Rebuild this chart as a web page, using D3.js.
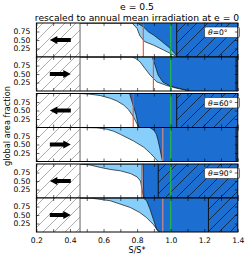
<!DOCTYPE html>
<html><head><meta charset="utf-8">
<script src="https://cdn.jsdelivr.net/npm/d3@7"></script>
<style>body{margin:0;background:#fff}svg{display:block}text{font-family:"DejaVu Sans",sans-serif}</style>
</head><body><svg id="c" width="249" height="258"></svg>
<script>
// ---- data ----
const titleLines = ["e = 0.5", "rescaled to annual mean irradiation at e = 0"];
const xLabel = "S/S*";
const yLabel = "global area fraction";
const xTickLabels = [0.2, 0.4, 0.6, 0.8, 1.0, 1.2, 1.4];
const yTickValues = [0.25, 0.5, 0.75];
const panelTheta = ["0°", null, "60°", null, "90°", null];
const sweepDir = [-1, 1, -1, 1, -1, 1];
const redLineS = [0.837, 0.897, 0.777, 0.953, 0.828, 0.953];
const greenLineS = 1.0;
const hatchStartS = [1.036, 1.39, 1.036, 1.39, 0.926, 1.225];
const noDataEndS = 0.46;
const arrowS = [0.28, 0.405];
// white area top (S, fraction)
const white1 = [[0.46,1],[0.77,1],[0.80,0.84],[0.817,0.62],[0.846,0.45],[0.897,0.35],[0.956,0.21],[0.996,0.11],[1.026,0.04],[1.04,0]];
const white2 = [[0.46,1],[0.77,1],[0.79,0.96],[0.817,0.86],[0.846,0.67],[0.877,0.47],[0.917,0.27],[0.977,0.16],[1.036,0.08],[1.096,0.02],[1.11,0]];
const white3 = [[0.46,1],[0.52,0.98],[0.58,0.94],[0.64,0.86],[0.68,0.78],[0.72,0.66],[0.75,0.52],[0.78,0.3],[0.80,0.1],[0.81,0]];
const white4 = [[0.46,1],[0.56,0.99],[0.62,0.95],[0.66,0.89],[0.70,0.8],[0.74,0.7],[0.78,0.6],[0.84,0.42],[0.88,0.24],[0.91,0.08],[0.925,0]];
const white5 = [[0.46,1],[0.52,0.97],[0.58,0.9],[0.64,0.84],[0.70,0.8],[0.76,0.72],[0.80,0.62],[0.82,0.5],[0.83,0.25],[0.838,0]];
const white6 = [[0.46,1],[0.52,1],[0.64,0.92],[0.76,0.72],[0.817,0.57],[0.857,0.42],[0.897,0.22],[0.926,0.02],[0.93,0]];
// dark-blue lower boundary (S, fraction)
const dark1 = [[0.46,1],[0.80,1],[0.837,0.89],[0.867,0.74],[0.897,0.65],[0.937,0.5],[0.996,0.26],[1.036,0.04],[1.04,0]];
const dark2 = [[0.46,1],[0.89,1],[0.907,0.76],[0.925,0.47],[0.954,0.26],[0.996,0.15],[1.055,0.07],[1.115,0]];
const dark3 = [[0.46,1],[0.755,1],[0.776,0.66],[0.794,0.37],[0.807,0.05],[0.81,0]];
const dark4 = [[0.46,1],[0.875,1],[0.90,0.92],[0.915,0.8],[0.925,0.62],[0.935,0.4],[0.945,0.15],[0.952,0]];
const dark5 = [[0.46,1],[0.835,1],[0.84,0]];
const dark6 = [[0.46,1],[0.837,1],[0.857,0.92],[0.877,0.67],[0.897,0.37],[0.917,0.07],[0.937,0]];

const whiteCurves = [white1, white2, white3, white4, white5, white6];
const darkCurves = [dark1, dark2, dark3, dark4, dark5, dark6];

// ---- style / layout ----
const C = {dark:"#1c6fd0", light:"#87cefa", red:"#ff4a1c", salmon:"#df8f7c", green:"#22b14c"};
const redColors = [C.red, C.red, C.red, C.salmon, C.red, C.salmon];
const panelTop = [23, 57, 93.5, 127.5, 164, 198];
const ph = 34;
const fs = 7.6;

const svg = d3.select("#c");
const defs = svg.append("defs");
function hatch(id, color, w){
  const p = defs.append("pattern").attr("id", id).attr("patternUnits","userSpaceOnUse")
    .attr("width", 11).attr("height", 11);
  p.append("path").attr("d","M0,11L11,0M-2.75,2.75L2.75,-2.75M8.25,13.75L13.75,8.25")
    .attr("stroke", color).attr("stroke-width", w).attr("fill","none");
}
hatch("hg", "#8a8a8a", 0.7);
hatch("hk", "#0a1a30", 0.8);

const x = d3.scaleLinear().domain([0.2, 1.4]).range([36.4, 237.8]);

panelTheta.forEach((th, i) => {
  const top = panelTop[i];
  const y = d3.scaleLinear().domain([0, 1]).range([top + ph, top]);
  const g = svg.append("g");
  const cid = "clip" + i;
  defs.append("clipPath").attr("id", cid).append("rect")
    .attr("x", x(0.2)).attr("y", top).attr("width", x(1.4) - x(0.2)).attr("height", ph);
  const pg = g.append("g").attr("clip-path", `url(#${cid})`);

  pg.append("rect").attr("x", x(noDataEndS)).attr("y", y(1))
    .attr("width", x(1.4) - x(noDataEndS)).attr("height", y(0) - y(1)).attr("fill", C.dark);
  const area = d3.area().x(d => x(d[0])).y0(y(0)).y1(d => y(d[1]));
  const line = d3.line().x(d => x(d[0])).y(d => y(d[1]));
  pg.append("path").attr("d", area(darkCurves[i])).attr("fill", C.light);
  pg.append("path").attr("d", area(whiteCurves[i])).attr("fill", "#fff");
  pg.append("path").attr("d", line(darkCurves[i])).attr("fill","none").attr("stroke","#111").attr("stroke-width",0.7);
  pg.append("path").attr("d", line(whiteCurves[i])).attr("fill","none").attr("stroke","#111").attr("stroke-width",0.7);

  // hatched right region
  const hs = hatchStartS[i];
  pg.append("rect").attr("x", x(hs)).attr("y", y(1)).attr("width", x(1.4) - x(hs)).attr("height", y(0) - y(1))
    .attr("fill", C.dark);
  pg.append("rect").attr("x", x(hs)).attr("y", y(1)).attr("width", x(1.4) - x(hs)).attr("height", y(0) - y(1))
    .attr("fill", "url(#hk)");
  pg.append("line").attr("x1", x(hs)).attr("x2", x(hs)).attr("y1", y(0)).attr("y2", y(1))
    .attr("stroke", "#111").attr("stroke-width", 1);

  // reference lines
  pg.append("line").attr("x1", x(redLineS[i])).attr("x2", x(redLineS[i])).attr("y1", y(0)).attr("y2", y(1))
    .attr("stroke", redColors[i]).attr("stroke-width", 1.1);
  pg.append("line").attr("x1", x(greenLineS)).attr("x2", x(greenLineS)).attr("y1", y(0)).attr("y2", y(1))
    .attr("stroke", C.green).attr("stroke-width", 1.5);

  // left no-data region
  pg.append("rect").attr("x", x(0.2)).attr("y", y(1)).attr("width", x(noDataEndS) - x(0.2)).attr("height", y(0) - y(1))
    .attr("fill", "#fff");
  pg.append("rect").attr("x", x(0.2)).attr("y", y(1)).attr("width", x(noDataEndS) - x(0.2)).attr("height", y(0) - y(1))
    .attr("fill", "url(#hg)");
  pg.append("line").attr("x1", x(noDataEndS)).attr("x2", x(noDataEndS)).attr("y1", y(0)).attr("y2", y(1))
    .attr("stroke", "#666").attr("stroke-width", 1);

  // arrow
  const ym = y(0.5), ax0 = x(arrowS[0]), ax1 = x(arrowS[1]);
  const hl = 7.5, hw = 4, sw = 1.9;
  let pts;
  if (sweepDir[i] < 0) {
    pts = [[ax0, ym], [ax0 + hl, ym - hw], [ax0 + hl, ym - sw], [ax1, ym - sw], [ax1, ym + sw], [ax0 + hl, ym + sw], [ax0 + hl, ym + hw]];
  } else {
    pts = [[ax1, ym], [ax1 - hl, ym - hw], [ax1 - hl, ym - sw], [ax0, ym - sw], [ax0, ym + sw], [ax1 - hl, ym + sw], [ax1 - hl, ym + hw]];
  }
  pg.append("path").attr("d", "M" + pts.join("L") + "Z").attr("fill", "#000");

  // theta label
  if (th) {
    g.append("rect").attr("x", 204.5).attr("y", top + 4).attr("width", 35).attr("height", 10.5)
      .attr("fill", "#fff").attr("stroke", "#222").attr("stroke-width", 0.6).attr("rx", 1.5);
    const t = g.append("text").attr("x", 208).attr("y", top + 12.2).attr("font-size", fs);
    t.append("tspan").attr("font-style", "italic").text("θ");
    t.append("tspan").text("=" + th);
  }

  // axes
  const xAxB = d3.axisBottom(x).tickValues(d3.range(2, 15).map(v => v / 10)).tickSizeInner(-3).tickSizeOuter(0)
    .tickFormat(i === 5 ? (d => (Math.abs(d * 10 % 2) < 1e-6 ? d3.format(".1f")(d) : "")) : (() => ""));
  const gb = g.append("g").attr("transform", `translate(0,${top + ph})`).call(xAxB);
  const xAxT = d3.axisTop(x).tickValues(d3.range(2, 15).map(v => v / 10)).tickSizeInner(-3).tickSizeOuter(0).tickFormat(() => "");
  const gt = g.append("g").attr("transform", `translate(0,${top})`).call(xAxT);
  const yAxL = d3.axisLeft(y).tickValues(yTickValues).tickSizeInner(-3).tickSizeOuter(0).tickPadding(6).tickFormat(d3.format(".2f"));
  const gl = g.append("g").attr("transform", `translate(${x(0.2)},0)`).call(yAxL);
  const yAxR = d3.axisRight(y).tickValues(yTickValues).tickSizeInner(-3).tickSizeOuter(0).tickFormat(() => "");
  const gr = g.append("g").attr("transform", `translate(${x(1.4)},0)`).call(yAxR);
  [gb, gt, gl, gr].forEach(a => { a.select(".domain").remove(); a.selectAll("line").attr("stroke", "#000").attr("stroke-width", 0.6);
    a.selectAll("text").attr("font-size", fs).attr("fill", "#000").attr("font-family", "DejaVu Sans"); });
  gb.selectAll("text").attr("dy", "1.05em");

  g.append("rect").attr("x", x(0.2)).attr("y", top).attr("width", x(1.4) - x(0.2)).attr("height", ph)
    .attr("fill", "none").attr("stroke", "#000").attr("stroke-width", 1);
});

svg.append("text").attr("x", 137).attr("y", 10.3).attr("text-anchor", "middle").attr("font-size", 9.2).text(titleLines[0]);
svg.append("text").attr("x", 137).attr("y", 20.6).attr("text-anchor", "middle").attr("font-size", 9.2).text(titleLines[1]);
svg.append("text").attr("x", 137).attr("y", 252.5).attr("text-anchor", "middle").attr("font-size", 8).text(xLabel);
svg.append("text").attr("transform", "translate(9.8,126) rotate(-90)").attr("text-anchor", "middle").attr("font-size", 8.2).text(yLabel);
</script></body></html>
